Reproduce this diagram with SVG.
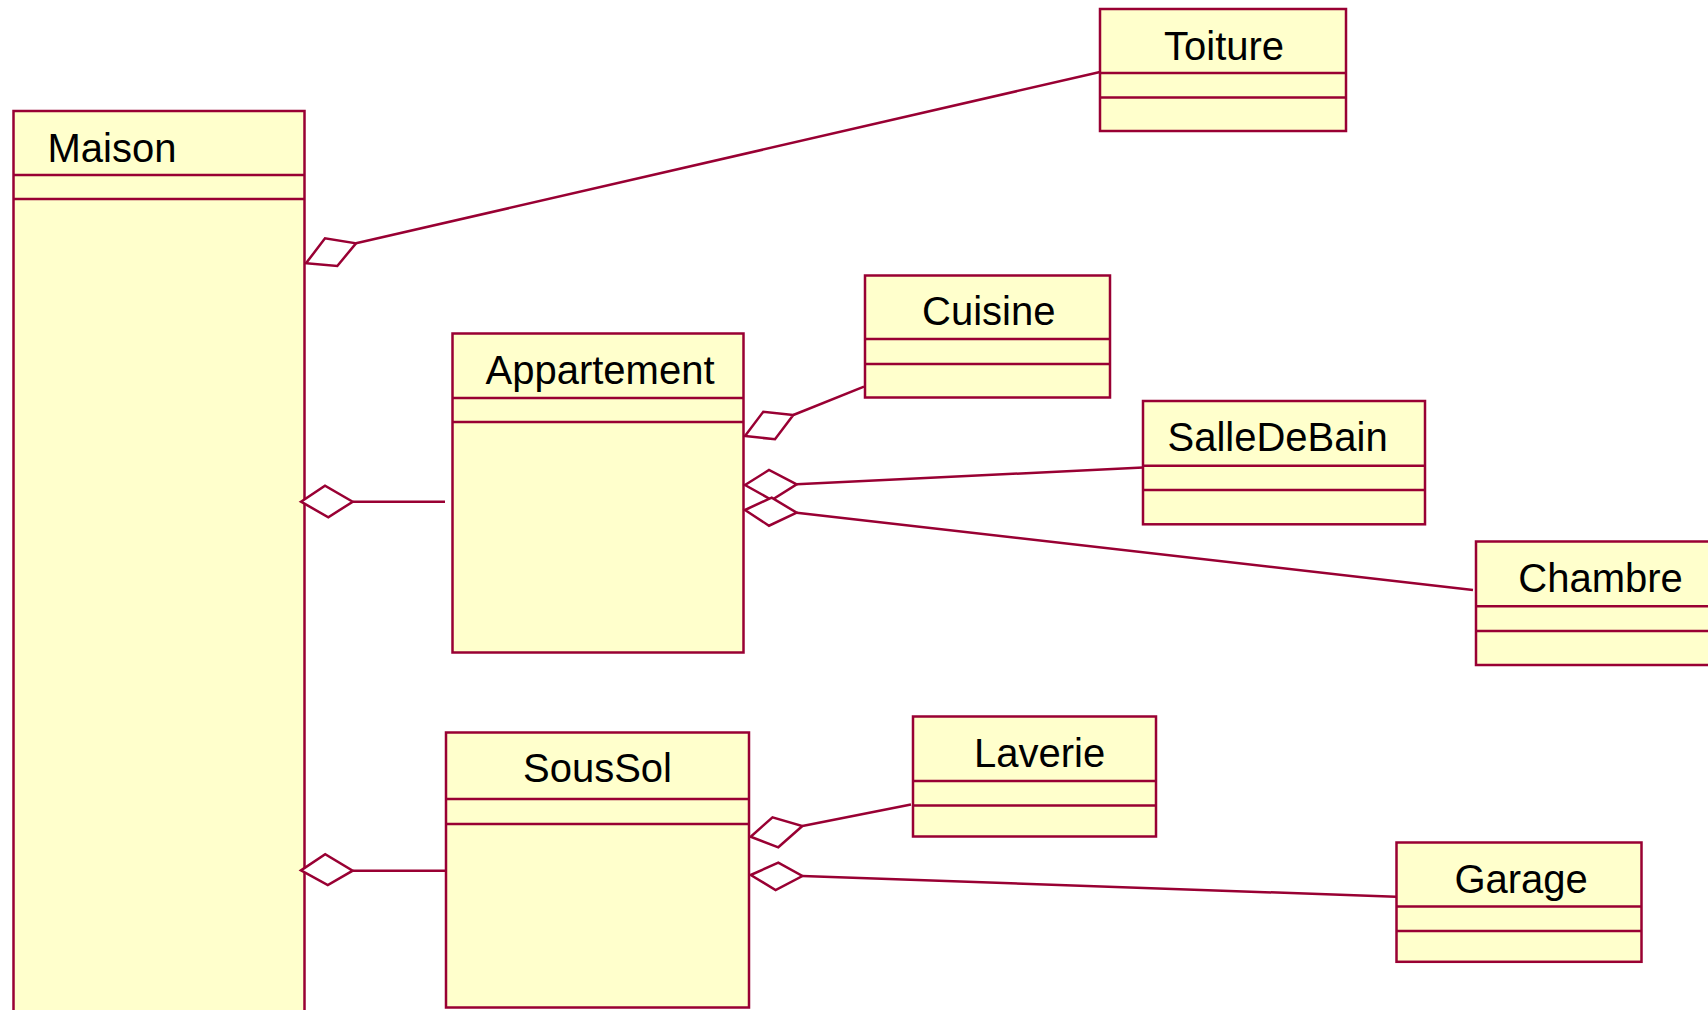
<svg xmlns="http://www.w3.org/2000/svg" width="1708" height="1010" viewBox="0 0 1708 1010">
<style>
.box{fill:#FFFFCC;stroke:#990033;stroke-width:2.5}
.sep{stroke:#990033;stroke-width:2.5;fill:none}
.lbl{font-family:"Liberation Sans",Arial,sans-serif;font-size:40px;fill:#000}
.con line{stroke:#990033;stroke-width:2.5;fill:none}
.con polygon{fill:#FFFFFF;stroke:#990033;stroke-width:2.5;stroke-linejoin:miter}
</style>
<rect width="1708" height="1010" fill="#FFFFFF"/>
<g id="Maison">
<rect class="box" x="13.5" y="111" width="291" height="920"/>
<line class="sep" x1="13.5" y1="175" x2="304.5" y2="175"/>
<line class="sep" x1="13.5" y1="199" x2="304.5" y2="199"/>
<text class="lbl" x="47.5" y="161.5">Maison</text>
</g>
<g id="Toiture">
<rect class="box" x="1100" y="9" width="246" height="122"/>
<line class="sep" x1="1100" y1="73" x2="1346" y2="73"/>
<line class="sep" x1="1100" y1="97.5" x2="1346" y2="97.5"/>
<text class="lbl" x="1164" y="60">Toiture</text>
</g>
<g id="Appartement">
<rect class="box" x="452.5" y="333.5" width="291" height="319"/>
<line class="sep" x1="452.5" y1="398" x2="743.5" y2="398"/>
<line class="sep" x1="452.5" y1="422" x2="743.5" y2="422"/>
<text class="lbl" x="485.5" y="383.5">Appartement</text>
</g>
<g id="Cuisine">
<rect class="box" x="865" y="275.5" width="245" height="122"/>
<line class="sep" x1="865" y1="339" x2="1110" y2="339"/>
<line class="sep" x1="865" y1="364" x2="1110" y2="364"/>
<text class="lbl" x="922" y="325">Cuisine</text>
</g>
<g id="SalleDeBain">
<rect class="box" x="1143" y="401" width="282" height="123.3"/>
<line class="sep" x1="1143" y1="465.7" x2="1425" y2="465.7"/>
<line class="sep" x1="1143" y1="490" x2="1425" y2="490"/>
<text class="lbl" x="1167.5" y="450.7">SalleDeBain</text>
</g>
<g id="Chambre">
<rect class="box" x="1476" y="541.5" width="260" height="123.5"/>
<line class="sep" x1="1476" y1="606.3" x2="1736" y2="606.3"/>
<line class="sep" x1="1476" y1="631" x2="1736" y2="631"/>
<text class="lbl" x="1518.3" y="591.7">Chambre</text>
</g>
<g id="SousSol">
<rect class="box" x="446" y="732.5" width="303" height="275"/>
<line class="sep" x1="446" y1="799" x2="749" y2="799"/>
<line class="sep" x1="446" y1="824" x2="749" y2="824"/>
<text class="lbl" x="523" y="781.7">SousSol</text>
</g>
<g id="Laverie">
<rect class="box" x="913" y="716.5" width="243" height="120"/>
<line class="sep" x1="913" y1="781" x2="1156" y2="781"/>
<line class="sep" x1="913" y1="805.5" x2="1156" y2="805.5"/>
<text class="lbl" x="974" y="766.7">Laverie</text>
</g>
<g id="Garage">
<rect class="box" x="1396.5" y="842.5" width="245" height="119.3"/>
<line class="sep" x1="1396.5" y1="906.5" x2="1641.5" y2="906.5"/>
<line class="sep" x1="1396.5" y1="931" x2="1641.5" y2="931"/>
<text class="lbl" x="1454.4" y="892.7">Garage</text>
</g>
<g id="connectors" class="con">
<line x1="356" y1="243.3" x2="1100" y2="72"/>
<polygon points="306,263.3 325,238.3 356,243.3 337.3,266"/>
<line x1="352.7" y1="501.7" x2="445" y2="501.7"/>
<polygon points="301,501.7 325,485.7 352.7,501.7 328.3,517.3"/>
<line x1="352.7" y1="870.7" x2="446" y2="870.7"/>
<polygon points="301,870.4 325.2,854.3 352.7,870.7 327.8,885"/>
<line x1="793.3" y1="415" x2="864" y2="386.7"/>
<polygon points="745,436 763.3,411.7 793.3,415 775,439.3"/>
<line x1="796.7" y1="484.3" x2="1143" y2="467.5"/>
<polygon points="745,485 769,470 796.7,484.3 771.7,500"/>
<line x1="796.7" y1="512.7" x2="1473" y2="590"/>
<polygon points="745,510 771.7,497.7 796.7,512.7 769,525.7"/>
<line x1="802.4" y1="826" x2="911" y2="804.5"/>
<polygon points="750.7,836.7 772.5,817.3 802.4,826 778.3,847.3"/>
<line x1="802.4" y1="876" x2="1396" y2="896.7"/>
<polygon points="750.7,875 778.3,862.7 802.4,876 775.6,890"/>
</g>
</svg>
